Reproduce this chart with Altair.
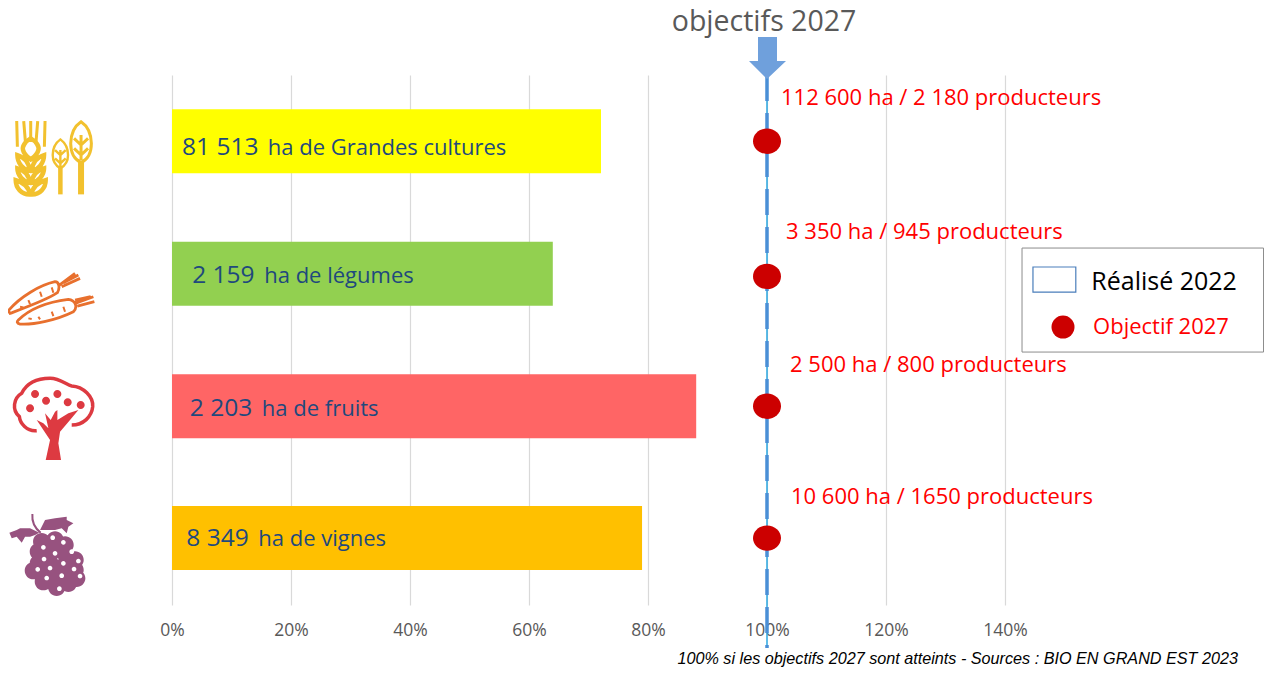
import altair as alt
import pandas as pd

FONT = "Open Sans"
categories = ["Grandes cultures", "légumes", "fruits", "vignes"]
realise = [0.721, 0.640, 0.881, 0.790]
objectif = [1.0, 1.0, 1.0, 1.0]
rang = [0, 1, 2, 2.995]
rang_objectif = [0, 1.02, 2, 2.995]
bar_colors = ["#FFFF00", "#92D050", "#FF6565", "#FFC000"]
surface = ["81 513", "2 159", "2 203", "8 349"]
suffixe = ["ha de Grandes cultures", "ha de légumes", "ha de fruits", "ha de vignes"]
surface_x = [0.017, 0.034, 0.030, 0.024]
suffixe_x = [0.161, 0.155, 0.151, 0.145]
label_y = [0.048, 1.018, 2.02, 3.002]
objectif_txt = ["112 600 ha / 2 180 producteurs", "3 350 ha / 945 producteurs",
                "2 500 ha / 800 producteurs", "10 600 ha / 1650 producteurs"]
objectif_txt_x = [1.0235, 1.032, 1.0387, 1.0403]
objectif_txt_y = [-0.327, 0.684, 1.688, 2.684]

X = alt.Scale(domain=[0, 1.4], nice=False, zero=False, padding=0)
Y = alt.Scale(domain=[-0.5, 3.5], reverse=True, nice=False, zero=False, padding=0)
AXIS = alt.Axis(values=[0, .2, .4, .6, .8, 1, 1.2, 1.4], format=".0%", domain=False, ticks=False,
                labelFontSize=17.5, labelColor="#595959", labelFont=FONT, labelPadding=16, labelFlush=False,
                labelOverlap=False, labelBound=False, gridColor="#D9D9D9", gridWidth=1.2, title=None)
x_ = alt.X("x:Q", scale=X, axis=AXIS)
y_ = alt.Y("y:Q", scale=Y, axis=None)


def text(rows, size, color, align="left", font=FONT, style="normal"):
    return alt.Chart(pd.DataFrame(rows)).mark_text(
        align=align, baseline="middle", fontSize=size, color=color, font=font, fontStyle=style
    ).encode(x=x_, y=y_, text="t:N")


def circles(pts, r):
    return "".join(f"M{x-r},{y}a{r},{r} 0 1,0 {2*r},0a{r},{r} 0 1,0 {-2*r},0Z" for x, y in pts)


def icon(x, y, path, color, sw=None):
    kw = dict(filled=False, stroke=color, strokeWidth=sw) if sw else dict(filled=True, color=color, strokeWidth=0)
    return alt.Chart(pd.DataFrame({"x": [x], "y": [y]})).mark_point(
        shape=path, size=4 / 9, opacity=1, **kw).encode(x=x_, y=y_)


df = pd.DataFrame({"x": realise, "y": rang, "c": bar_colors})
bars = alt.Chart(df).mark_bar(size=64, orient="horizontal").encode(x=x_, y=y_, color=alt.Color("c:N", scale=None))

line_df = pd.DataFrame({"x": [1.0], "y": [-0.5], "y2": [3.825]})
line1 = alt.Chart(line_df).mark_rule(color="#2AA7E0", strokeWidth=1.5).encode(x=x_, y=y_, y2="y2:Q")
line2 = alt.Chart(line_df).mark_rule(color="#4A8FD6", strokeWidth=3.5, strokeDash=[26, 12]).encode(x=x_, y=y_, y2="y2:Q")

dots = alt.Chart(pd.DataFrame({"x": objectif, "y": rang_objectif})).mark_point(
    shape="M-42,0a42,38 0 1,0 84,0a42,38 0 1,0 -84,0Z", filled=True, color="#CC0000", size=4 / 9, strokeWidth=0, opacity=1
).encode(x=x_, y=y_)

arrow = icon(1.0, -0.613, "M-27,-69H30V3H57L0,57L-54,3H-27Z", "#6FA0DC")

t_surface = text({"x": surface_x, "y": label_y, "t": surface}, 24.5, "#1F497D")
t_suffix = text({"x": suffixe_x, "y": label_y, "t": suffixe}, 22, "#1F497D")
t_obj = text({"x": objectif_txt_x, "y": objectif_txt_y, "t": objectif_txt}, 22, "#FF0000")
t_title = text({"x": [0.995], "y": [-0.9], "t": ["objectifs 2027"]}, 28.5, "#595959", align="center")
t_foot = text({"x": [1.7916], "y": [3.905], "t": ["100% si les objectifs 2027 sont atteints - Sources : BIO EN GRAND EST 2023"]},
              16.2, "#000000", align="right", font="Liberation Sans", style="italic")

leg_box = alt.Chart(pd.DataFrame({"x": [1.4286], "x2": [1.8345], "y": [0.806], "y2": [1.591]})).mark_rect(
    fill="#FFFFFF", stroke="#8C8C8C", strokeWidth=1).encode(x=x_, x2="x2:Q", y=y_, y2="y2:Q")
leg_swatch = alt.Chart(pd.DataFrame({"x": [1.447], "x2": [1.519], "y": [0.949], "y2": [1.138]})).mark_rect(
    fill="#FFFFFF", stroke="#4A7EBB", strokeWidth=1.2).encode(x=x_, x2="x2:Q", y=y_, y2="y2:Q")
leg_dot = alt.Chart(pd.DataFrame({"x": [1.4975], "y": [1.402]})).mark_point(
    shape="circle", filled=True, color="#CC0000", size=530, opacity=1).encode(x=x_, y=y_)
leg_t1 = text({"x": [1.545], "y": [1.062], "t": ["Réalisé 2022"]}, 25, "#000000")
leg_t2 = text({"x": [1.548], "y": [1.402], "t": ["Objectif 2027"]}, 22, "#FF0000")

ix, y1, y2o = -0.289, -0.311, 1.651
WHEAT = "#F2C12E"; CARROT = "#E8702E"; TREE = "#DD3A41"; GRAPE = "#97527F"
icons = [
    icon(ix, y1, "M50,63L52,140M71,63L76,125M92,63V118M113,63L108,125M135,63L133,140", WHEAT, 3),
    icon(ix, y1, "M92,115C110,125 118,140 115,150C112,165 100,172 92,178C84,172 72,165 69,150C66,140 74,125 92,115Z"
                 "M52,165C52,190 70,210 88,212C88,190 75,172 52,165ZM132,165C132,190 114,210 96,212C96,190 109,172 132,165Z"
                 "M52,205C52,225 70,245 88,248C88,228 75,212 52,205ZM132,205C132,225 114,245 96,248C96,228 109,212 132,205Z"
                 "M47,240C47,265 65,283 88,283C88,262 72,248 47,240ZM137,240C137,265 119,283 96,283C96,262 112,248 137,240Z", WHEAT, 4.5),
    icon(ix, y1, "M181,118C195,128 204,140 204,165C204,190 190,200 181,205C172,200 158,190 158,165C158,140 167,128 181,118Z"
                 "M181,150V200M165,150L181,165L197,150M165,175L181,190L197,175", WHEAT, 2.4),
    icon(ix, y1, "M181,200V283", WHEAT, 4.5),
    icon(ix, y1, "M243,65C258,75 273,90 274,130C274,165 258,180 243,187C228,180 212,165 212,130C213,90 228,75 243,65Z"
                 "M243,105V180M222,115L243,135L264,115M222,145L243,165L264,145", WHEAT, 3),
    icon(ix, y1, "M243,185V283", WHEAT, 6),
    icon(ix, y1, "M25,632C60,590 120,555 165,545C178,545 180,565 172,578C140,600 70,625 30,640Z"
                 "M178,555L225,520M185,560L240,535M190,548L235,525"
                 "M55,660C90,625 150,605 205,598C225,600 235,620 220,635C170,660 100,675 60,672C50,670 50,665 55,660Z"
                 "M225,610L280,590M232,618L283,605M225,600L272,590", CARROT, 2.8),
    icon(ix, y1, "M85,600L90,612M120,575L125,590M155,562L160,578M60,620L70,622"
                 "M115,650L120,658M155,635L160,648M190,620L195,635M85,655L95,657", CARROT, 2),
    icon(ix, y2o, "M110,212C80,215 60,190 58,170C35,150 40,115 65,100C80,70 110,55 150,55"
                  "C180,55 200,75 215,78C250,80 280,110 278,140C275,170 250,195 215,195", TREE, 3.5),
    icon(ix, y2o, "M137,300L150,240L110,180L130,190L145,205L135,160L152,180L165,155L172,150L172,180"
                  "L205,160L235,150L210,180L180,215L175,250L183,300Z", TREE),
    icon(ix, y2o, circles([(105, 102), (172, 102), (138, 122), (203, 127), (242, 135), (90, 145)], 12), TREE),
    icon(ix, y2o, "M28,518L50,510L60,505L90,505L118,518L105,525L90,530L75,530L65,548L50,530L35,535Z"
                  "M120,510L135,480L165,475L200,470L200,480L220,490L205,500L200,520L185,505L165,510L145,510Z", GRAPE),
    icon(ix, y2o, "M97,462C95,485 105,505 122,518", GRAPE, 2),
    icon(ix, y2o, circles([(125, 545), (165, 540), (195, 555), (115, 575), (155, 575), (200, 590), (225, 600),
                           (115, 610), (150, 610), (190, 620), (100, 632), (140, 645), (180, 650), (225, 630),
                           (230, 655), (130, 665), (170, 682), (205, 670)], 26), GRAPE),
    icon(ix, y2o, circles([(158, 533), (130, 562), (190, 547), (165, 580), (215, 575), (132, 597), (190, 610),
                           (235, 603), (113, 628), (150, 624), (222, 627), (140, 654), (185, 647), (240, 648),
                           (178, 686)], 7), "#FFFFFF"),
]

chart = alt.layer(
    bars, line1, line2, dots, arrow, t_surface, t_suffix, t_obj, t_title, t_foot,
    leg_box, leg_swatch, leg_dot, leg_t1, leg_t2, *icons
).properties(
    width=833, height=530,
    padding={"left": 164, "top": 67, "right": 259, "bottom": 62},
    autosize=alt.AutoSizeParams(type="none"),
).configure_view(stroke=None)

chart.save("out.html", embed_options={"renderer": "svg", "actions": False})
